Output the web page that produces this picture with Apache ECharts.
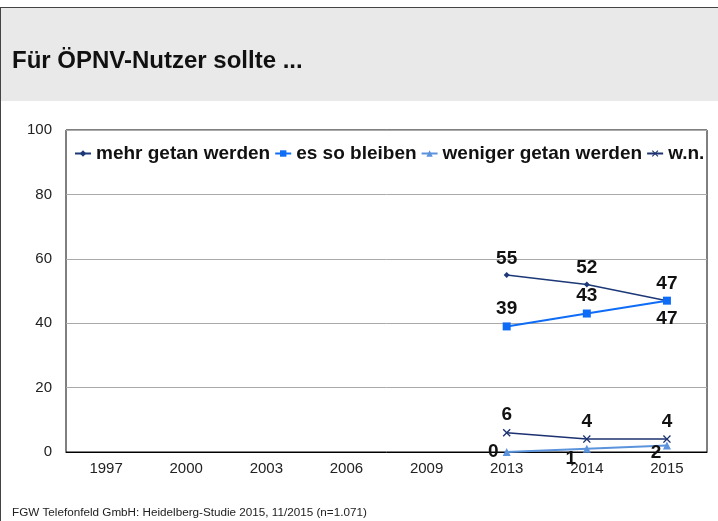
<!DOCTYPE html>
<html>
<head>
<meta charset="utf-8">
<script src="https://cdn.jsdelivr.net/npm/echarts@6/dist/echarts.min.js"></script>
<style>html,body{margin:0;padding:0;background:#fff}#c{width:718px;height:521px}</style>
</head>
<body>
<div id="c"></div>
<script>
var titleText = 'Für ÖPNV-Nutzer sollte ...';
var footerText = 'FGW Telefonfeld GmbH: Heidelberg-Studie 2015, 11/2015 (n=1.071)';
var years = ['1997', '2000', '2003', '2006', '2009', '2013', '2014', '2015'];
var yTicks = [0, 20, 40, 60, 80, 100];
var seriesNames = ['mehr getan werden', 'es so bleiben', 'weniger getan werden', 'w.n.'];
var mehrGetan = [null, null, null, null, null, 55, 52, 47];
var soBleiben = [null, null, null, null, null, 39, 43, 47];
var wenigerGetan = [null, null, null, null, null, 0, 1, 2];
var wn = [null, null, null, null, null, 6, 4, 4];

var FONT = '"Liberation Sans", Arial, sans-serif';
var xPath = 'path://M0,1.2L1.2,0L5,3.8L8.8,0L10,1.2L6.2,5L10,8.8L8.8,10L5,6.2L1.2,10L0,8.8L3.8,5Z';

function mk(values, posFn) {
  return values.map(function (v, i) {
    if (v === null) return null;
    var o = { value: v };
    var p = posFn ? posFn(i) : null;
    if (p) o.label = p;
    return o;
  });
}
var lbl = { show: true, position: 'top', distance: 4, color: '#111', fontWeight: 'bold', fontSize: 19, fontFamily: FONT };

var chart = echarts.init(document.getElementById('c'));
chart.setOption({
  animation: false,
  backgroundColor: '#fff',
  graphic: [
    { type: 'rect', shape: { x: 0, y: 7, width: 718, height: 94 }, style: { fill: '#e9e9e9' }, silent: true, z: -10 },
    { type: 'line', shape: { x1: 0, y1: 7.5, x2: 718, y2: 7.5 }, style: { stroke: '#444', lineWidth: 1 }, silent: true },
    { type: 'line', shape: { x1: 0.5, y1: 7, x2: 0.5, y2: 521 }, style: { stroke: '#444', lineWidth: 1 }, silent: true }
  ],
  title: [
    { text: titleText, left: 12, top: 49, padding: 0, textStyle: { fontFamily: FONT, fontWeight: 'bold', fontSize: 24, color: '#111' } },
    { text: footerText, left: 12, top: 507, padding: 0, textStyle: { fontFamily: FONT, fontWeight: 'normal', fontSize: 11.7, color: '#222' } }
  ],
  legend: {
    left: 74, top: 144, padding: 0, itemGap: 4, itemWidth: 16, itemHeight: 8,
    data: seriesNames,
    textStyle: { fontFamily: FONT, fontWeight: 'bold', fontSize: 19, color: '#111' }
  },
  grid: { left: 66, top: 130, right: 11, bottom: 69, show: true, borderColor: '#000', borderWidth: 1, backgroundColor: 'transparent' },
  xAxis: {
    type: 'category', data: years, boundaryGap: true,
    axisLine: { lineStyle: { color: '#000', width: 1 } },
    axisTick: { show: false },
    axisLabel: { color: '#222', fontFamily: FONT, fontSize: 15, margin: 9 }
  },
  yAxis: {
    type: 'value', min: 0, max: 100, interval: 20,
    axisLine: { show: false }, axisTick: { show: false },
    axisLabel: { color: '#222', fontFamily: FONT, fontSize: 15, margin: 14 },
    splitLine: { lineStyle: { color: '#aaaaaa', width: 1 } }
  },
  series: [
    {
      name: seriesNames[0], type: 'line', data: mk(mehrGetan), color: '#1c3876',
      symbol: 'diamond', symbolSize: 6, lineStyle: { width: 1.5 }, label: lbl, z: 3
    },
    {
      name: seriesNames[1], type: 'line', color: '#0f6cf6',
      data: mk(soBleiben, function (i) { return i === 7 ? { position: 'bottom', distance: 5 } : null; }),
      symbol: 'rect', symbolSize: 8, lineStyle: { width: 2 }, label: lbl, z: 4
    },
    {
      name: seriesNames[2], type: 'line', color: '#5b93dc',
      data: mk(wenigerGetan, function (i) {
        if (i === 5) return { position: 'left', distance: 4 };
        if (i === 6) return { position: 'bottom', distance: 0, offset: [-16, -4] };
        if (i === 7) return { position: 'bottom', distance: 0, offset: [-11, -6] };
        return null;
      }),
      symbol: 'triangle', symbolSize: 8, lineStyle: { width: 2 }, label: lbl, z: 3
    },
    {
      name: seriesNames[3], type: 'line', data: mk(wn), color: '#1c3270',
      symbol: xPath, symbolSize: 8, lineStyle: { width: 1.5 }, label: lbl, z: 3
    }
  ]
});
</script>
</body>
</html>
